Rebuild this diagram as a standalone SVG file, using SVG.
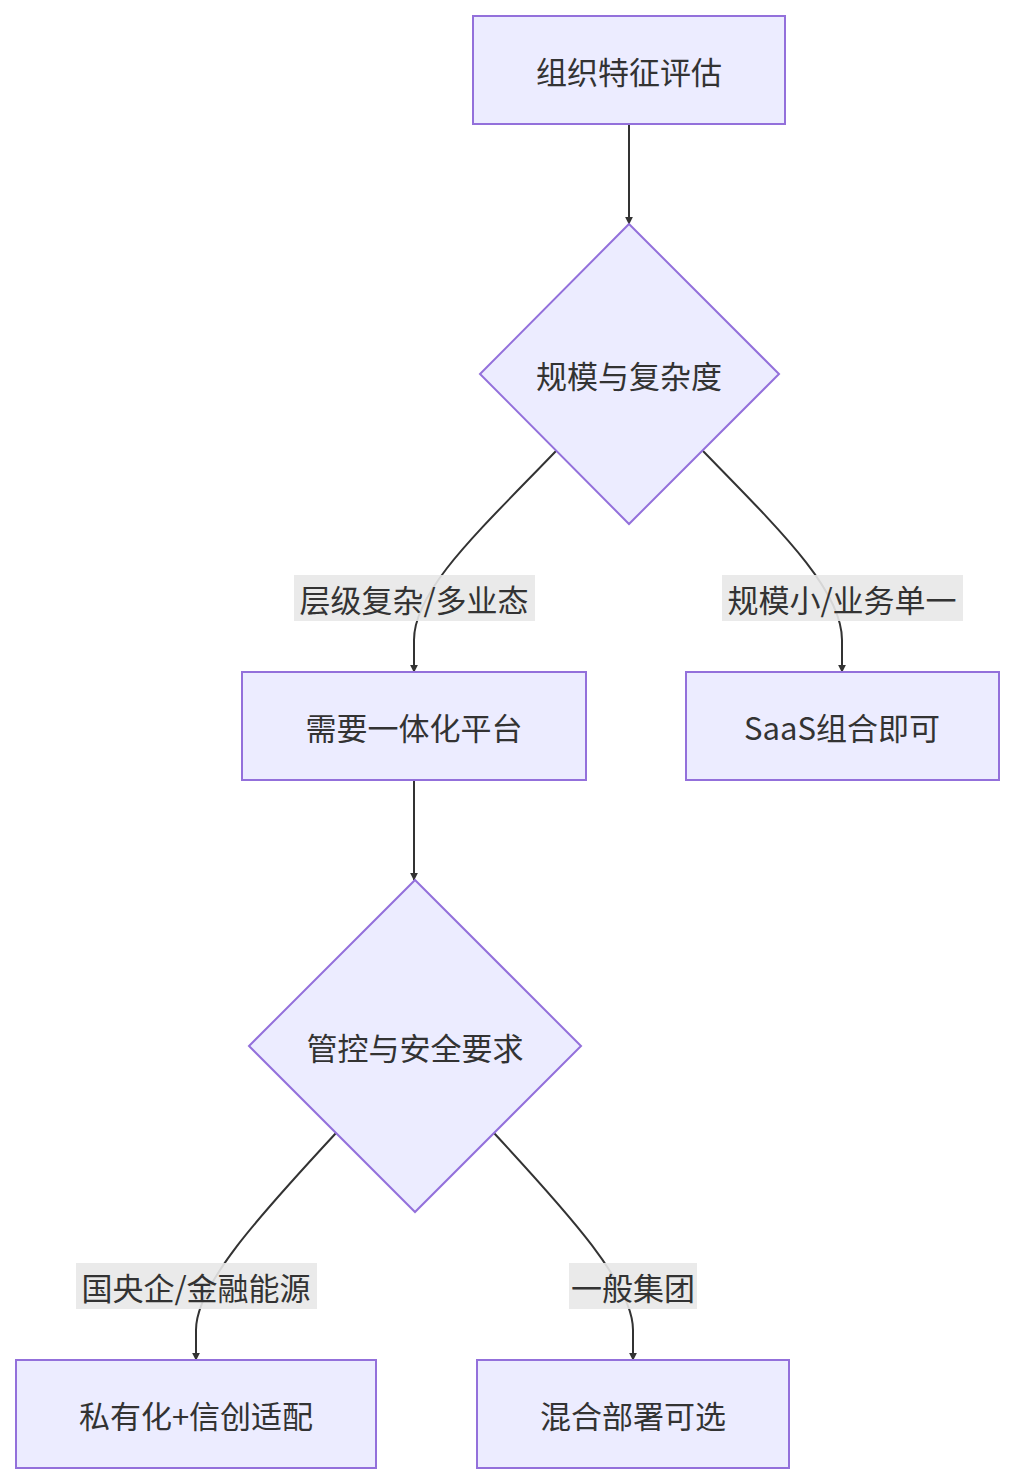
<svg xmlns="http://www.w3.org/2000/svg" width="1014" height="1484" viewBox="0 0 1014 1484">
<style>
.n{fill:#ECECFF;stroke:#9370DB;stroke-width:2}
.t{font-family:"Noto Sans CJK SC","Noto Sans",sans-serif;font-size:31px;fill:#333;text-anchor:middle;dominant-baseline:central}
.e{fill:none;stroke:#333;stroke-width:2}
.lb{fill:#e8e8e8;opacity:0.9}
</style>
<defs><marker id="ah" viewBox="0 0 10 10" refX="9" refY="5" markerWidth="8" markerHeight="8" markerUnits="userSpaceOnUse" orient="auto"><path d="M0,0L10,5L0,10z" fill="#333"/></marker></defs>
<g id="edges">
<path class="e" marker-end="url(#ah)" d="M629,124L629,224"/>
<path class="e" marker-end="url(#ah)" d="M556,451C480,530 414,590 414,640L414,672"/>
<path class="e" marker-end="url(#ah)" d="M703,451C780,530 842,590 842,640L842,672"/>
<path class="e" marker-end="url(#ah)" d="M414,780L414,880"/>
<path class="e" marker-end="url(#ah)" d="M336,1133C260,1215 196,1285 196,1330L196,1360"/>
<path class="e" marker-end="url(#ah)" d="M494,1133C570,1215 633,1285 633,1330L633,1360"/>
</g>
<g id="labels">
<rect class="lb" x="294" y="575" width="241" height="46"/><text class="t" x="414" y="598">层级复杂/多业态</text>
<rect class="lb" x="722" y="575" width="241" height="46"/><text class="t" x="842" y="598">规模小/业务单一</text>
<rect class="lb" x="76" y="1263" width="241" height="46"/><text class="t" x="196" y="1286">国央企/金融能源</text>
<rect class="lb" x="569" y="1263" width="128" height="46"/><text class="t" x="633" y="1286">一般集团</text>
</g>
<g id="A"><rect class="n" x="473" y="16" width="312" height="108"/><text class="t" x="629" y="70">组织特征评估</text></g>
<g id="B"><path class="n" d="M629,224L779,374L629,524L480,374Z"/><text class="t" x="629" y="374">规模与复杂度</text></g>
<g id="C"><rect class="n" x="242" y="672" width="344" height="108"/><text class="t" x="414" y="726">需要一体化平台</text></g>
<g id="D"><rect class="n" x="686" y="672" width="313" height="108"/><text class="t" x="842" y="726">SaaS组合即可</text></g>
<g id="E"><path class="n" d="M415,880L581,1046L415,1212L249,1046Z"/><text class="t" x="415" y="1046">管控与安全要求</text></g>
<g id="F"><rect class="n" x="16" y="1360" width="360" height="108"/><text class="t" x="196" y="1414">私有化+信创适配</text></g>
<g id="G"><rect class="n" x="477" y="1360" width="312" height="108"/><text class="t" x="633" y="1414">混合部署可选</text></g>
</svg>
